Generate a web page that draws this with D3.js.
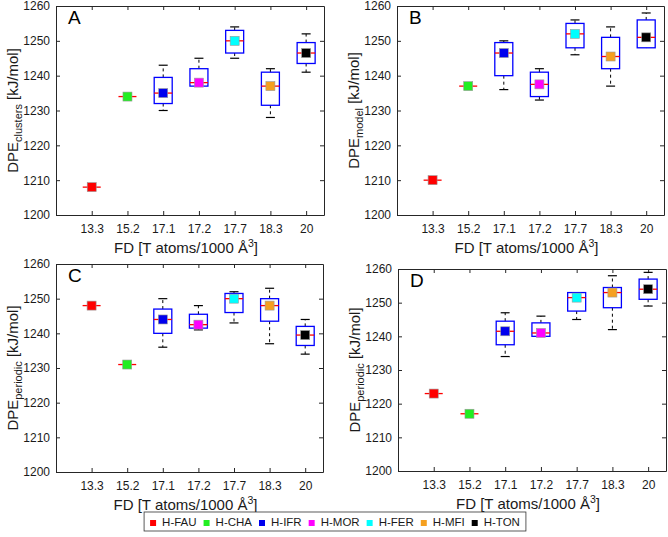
<!DOCTYPE html>
<html>
<head>
<meta charset="utf-8">
<script src="https://cdn.jsdelivr.net/npm/d3@7"></script>
<style>
  body { margin: 0; background: #fff; }
  svg { font-family: "Liberation Sans", Arial, sans-serif; }
</style>
</head>
<body>
<svg id="chart" width="668" height="537"></svg>
<script>
// categories (framework density) and zeolite names
const categories = ["13.3", "15.2", "17.1", "17.2", "17.7", "18.3", "20"];
const zeolites = ["H-FAU", "H-CHA", "H-IFR", "H-MOR", "H-FER", "H-MFI", "H-TON"];
const zeoliteColors = ["#ff0000", "#22ee22", "#0000ee", "#ff00ff", "#00ffff", "#f5a020", "#000000"];
const yTicks = [1200, 1210, 1220, 1230, 1240, 1250, 1260];

// each row: [whisker low, q1, median, q3, whisker high, marker]
const statsA = [
    [1208, 1208, 1208, 1208, 1208, 1208],
    [1234, 1234, 1234, 1234, 1234, 1234],
    [1230, 1232, 1235, 1239.5, 1243, 1235],
    [1237, 1237, 1238, 1242, 1245, 1238],
    [1245, 1246.5, 1250, 1253, 1254, 1250],
    [1228, 1231.5, 1237, 1241, 1242, 1237],
    [1241, 1243.5, 1246.5, 1249.5, 1252, 1246.5]
];
const statsB = [
    [1210, 1210, 1210, 1210, 1210, 1210],
    [1237, 1237, 1237, 1237, 1237, 1237],
    [1236, 1240, 1246.5, 1249.5, 1250, 1246.5],
    [1233, 1234, 1237.5, 1241, 1242, 1237.5],
    [1246, 1248, 1252, 1255, 1256, 1252],
    [1237, 1242, 1245.5, 1251, 1254, 1245.5],
    [1248, 1248, 1251, 1256, 1258, 1251]
];
const statsC = [
    [1248, 1248, 1248, 1248, 1248, 1248],
    [1231, 1231, 1231, 1231, 1231, 1231],
    [1236, 1240, 1244, 1247, 1250, 1244],
    [1241, 1241.5, 1242.5, 1245.5, 1248, 1242.5],
    [1243, 1246, 1250, 1251.5, 1252, 1250],
    [1237, 1243.5, 1248, 1250, 1253, 1248],
    [1234, 1236.5, 1239.5, 1242, 1244, 1239.5]
];
const statsD = [
    [1223, 1223, 1223, 1223, 1223, 1223],
    [1217, 1217, 1217, 1217, 1217, 1217],
    [1234, 1237.5, 1241.5, 1244.5, 1247, 1241.5],
    [1240, 1240, 1241, 1244, 1246, 1241],
    [1245, 1247.5, 1251.5, 1253, 1253, 1251.5],
    [1242, 1248.5, 1253, 1254.5, 1258, 1253],
    [1249, 1251, 1254, 1257, 1259, 1254]
];

const panels = [
    { letter: "A", sub: "clusters", stats: statsA, left: 56, right: 324, top: 6, bottom: 215 },
    { letter: "B", sub: "model", stats: statsB, left: 397, right: 664, top: 6, bottom: 215 },
    { letter: "C", sub: "periodic", stats: statsC, left: 56, right: 323, top: 264, bottom: 472 },
    { letter: "D", sub: "periodic", stats: statsD, left: 398, right: 666, top: 269, bottom: 471 }
];

const svg = d3.select("#chart");
const axisColor = "#262626";

function drawPanel(p) {
    const g = svg.append("g");

    const x = d3.scaleLinear().domain([0, 7.5]).range([p.left, p.right]);
    const y = d3.scaleLinear().domain([1200, 1260]).range([p.bottom, p.top]);
    const catPos = (i) => x(i + 1);
    const xTickVals = categories.map((c, i) => i + 1);

    // axes, matlab style with inward ticks on all four sides
    const bottom = g.append("g").attr("transform", `translate(0,${p.bottom})`)
        .call(d3.axisBottom(x).tickValues(xTickVals).tickFormat((d) => categories[d - 1])
            .tickSizeInner(-4).tickSizeOuter(0).tickPadding(9));
    const top = g.append("g").attr("transform", `translate(0,${p.top})`)
        .call(d3.axisTop(x).tickValues(xTickVals).tickFormat("").tickSizeInner(-4).tickSizeOuter(0));
    const left = g.append("g").attr("transform", `translate(${p.left},0)`)
        .call(d3.axisLeft(y).tickValues(yTicks).tickFormat(d3.format("d"))
            .tickSizeInner(-4).tickSizeOuter(0).tickPadding(6));
    const right = g.append("g").attr("transform", `translate(${p.right},0)`)
        .call(d3.axisRight(y).tickValues(yTicks).tickFormat("").tickSizeInner(-4).tickSizeOuter(0));

    [bottom, top, left, right].forEach(a => {
        a.select(".domain").attr("stroke", axisColor).attr("stroke-width", 1);
        a.selectAll(".tick line").attr("stroke", axisColor);
        a.selectAll(".tick text").attr("fill", "#1a1a1a").style("font-size", "12px")
            .style("font-family", "'Liberation Sans', Arial, sans-serif");
    });

    // x label
    const xl = g.append("text")
        .attr("x", (p.left + p.right) / 2 - 4)
        .attr("y", p.bottom + 38)
        .attr("text-anchor", "middle")
        .style("font-size", "15px")
        .attr("fill", "#1a1a1a");
    xl.append("tspan").text("FD [T atoms/1000 Å");
    xl.append("tspan").text("3").attr("dy", -6).style("font-size", "10.5px");
    xl.append("tspan").text("]").attr("dy", 6);

    // y label
    const yl = g.append("text")
        .attr("transform", `translate(${p.left - 38},${(p.top + p.bottom) / 2}) rotate(-90)`)
        .attr("text-anchor", "middle")
        .style("font-size", "15px")
        .attr("fill", "#1a1a1a");
    yl.append("tspan").text("DPE");
    yl.append("tspan").text(p.sub).attr("dy", 4).style("font-size", "11px");
    yl.append("tspan").text(" [kJ/mol]").attr("dy", -4);

    // panel letter
    g.append("text")
        .attr("x", p.left + 12)
        .attr("y", p.top + 18)
        .style("font-size", "19px")
        .attr("fill", "#000")
        .text(p.letter);

    const halfBox = 9;
    const halfCap = 4.5;

    const groups = g.selectAll(".bx").data(p.stats).enter().append("g").attr("class", "bx")
        .each(function(d, i) { d3.select(this).datum({ v: d, i: i }); });

    // whiskers (dashed)
    groups.append("line")
        .attr("x1", d => catPos(d.i)).attr("x2", d => catPos(d.i))
        .attr("y1", d => y(d.v[3])).attr("y2", d => y(d.v[4]))
        .attr("stroke", "#000").attr("stroke-dasharray", "3,3");
    groups.append("line")
        .attr("x1", d => catPos(d.i)).attr("x2", d => catPos(d.i))
        .attr("y1", d => y(d.v[1])).attr("y2", d => y(d.v[0]))
        .attr("stroke", "#000").attr("stroke-dasharray", "3,3");

    // whisker caps
    groups.filter(d => d.v[4] > d.v[3]).append("line")
        .attr("x1", d => catPos(d.i) - halfCap).attr("x2", d => catPos(d.i) + halfCap)
        .attr("y1", d => y(d.v[4])).attr("y2", d => y(d.v[4]))
        .attr("stroke", "#000").attr("stroke-width", 1.2);
    groups.filter(d => d.v[0] < d.v[1]).append("line")
        .attr("x1", d => catPos(d.i) - halfCap).attr("x2", d => catPos(d.i) + halfCap)
        .attr("y1", d => y(d.v[0])).attr("y2", d => y(d.v[0]))
        .attr("stroke", "#000").attr("stroke-width", 1.2);

    // boxes
    groups.filter(d => d.v[3] > d.v[1]).append("rect")
        .attr("x", d => catPos(d.i) - halfBox)
        .attr("y", d => y(d.v[3]))
        .attr("width", halfBox * 2)
        .attr("height", d => y(d.v[1]) - y(d.v[3]))
        .attr("fill", "none")
        .attr("stroke", "#0000ff")
        .attr("stroke-width", 1.3);

    // median
    groups.append("line")
        .attr("x1", d => catPos(d.i) - halfBox).attr("x2", d => catPos(d.i) + halfBox)
        .attr("y1", d => y(d.v[2])).attr("y2", d => y(d.v[2]))
        .attr("stroke", "#ff0000").attr("stroke-width", 1.3);

    // markers
    groups.append("rect")
        .attr("x", d => catPos(d.i) - 4.5)
        .attr("y", d => y(d.v[5]) - 4.5)
        .attr("width", 9).attr("height", 9)
        .attr("fill", d => zeoliteColors[d.i])
        .attr("stroke", "#999").attr("stroke-width", 0.6);
}

panels.forEach(drawPanel);

// legend
const legend = svg.append("g");
const legendItems = legend.selectAll(".li").data(zeolites).enter().append("g").attr("class", "li");
legendItems.append("rect")
    .attr("width", 6).attr("height", 6).attr("y", -6)
    .attr("fill", (d, i) => zeoliteColors[i]);
legendItems.append("text")
    .attr("x", 12).attr("y", 0)
    .style("font-size", "11.5px")
    .attr("fill", "#1a1a1a")
    .text(d => d);

let cursor = 0;
legendItems.each(function() {
    const w = d3.select(this).select("text").node().getComputedTextLength();
    d3.select(this).attr("transform", `translate(${cursor},0)`);
    cursor += 12 + w + 7;
});
const legendWidth = cursor - 7;
const legendLeft = 335 - legendWidth / 2;
legend.attr("transform", `translate(${legendLeft},526)`);
legend.insert("rect", ":first-child")
    .attr("x", -6).attr("y", -14)
    .attr("width", legendWidth + 12).attr("height", 19)
    .attr("fill", "#fff")
    .attr("stroke", "#333").attr("stroke-width", 0.8);
</script>
</body>
</html>
